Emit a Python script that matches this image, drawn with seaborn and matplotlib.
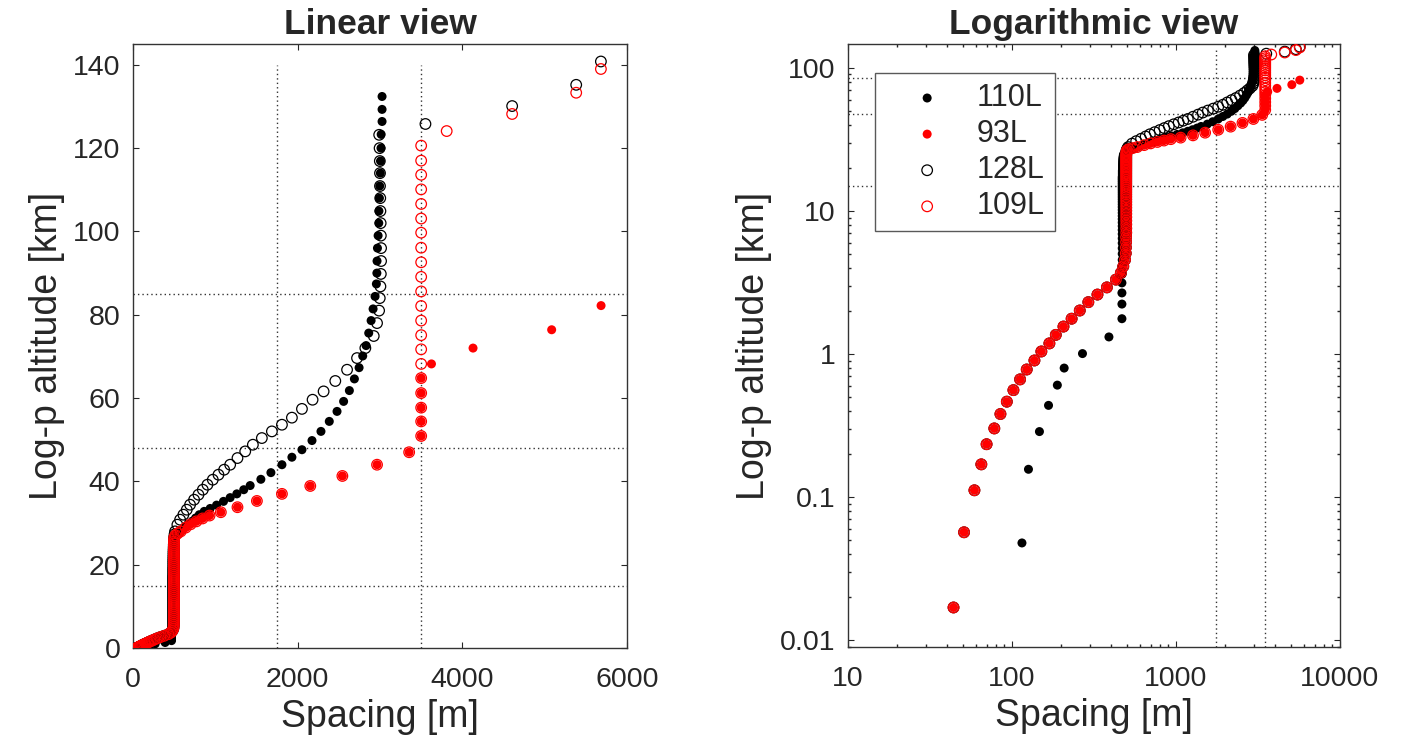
import matplotlib
matplotlib.use("Agg")
import matplotlib.pyplot as plt
from matplotlib.ticker import NullFormatter, LogLocator
import seaborn as sns

# Spacing [m] and log-p altitude [km]

# levels shared by 93L and 109L (128L sits underneath them here): surface to ~26 km
low_z = [0.017, 0.057, 0.112, 0.170, 0.235, 0.303, 0.382, 0.466, 0.561, 0.667,
         0.782, 0.904, 1.045, 1.19, 1.365, 1.56, 1.77, 2.02, 2.31, 2.61,
         2.93, 3.32, 3.70, 4.11, 4.57,
         5.07, 5.57, 6.07, 6.57, 7.07, 7.57, 8.07, 8.57, 9.07, 9.57,
         10.07, 10.57, 11.07, 11.57, 12.07, 12.57, 13.07, 13.57, 14.07, 14.57,
         15.07, 15.57, 16.07, 16.57, 17.07, 17.57, 18.07, 18.57, 19.07, 19.57,
         20.07, 20.57, 21.07, 21.57, 22.07, 22.57, 23.07, 23.57, 24.07, 24.57,
         25.07, 25.57, 26.07]
low_s = [44, 51, 59, 65, 70, 78, 85, 93, 102, 112,
         123, 137, 151, 169, 185, 206, 231, 259, 292, 332,
         379, 430, 461, 477, 489,
         494, 495, 496, 496, 497, 497, 497, 497, 497, 497,
         497, 497, 497, 497, 497, 497, 497, 497, 497, 497,
         497, 497, 497, 497, 497, 497, 497, 497, 497, 497,
         497, 497, 497, 497, 497, 497, 497, 497, 497, 497,
         498, 498, 499]

# 93L / 109L stratosphere
knee_z = [26.57, 27.07, 27.55, 28.0, 28.9, 29.7, 30.4, 31.1, 31.8, 32.6, 33.8,
          35.3, 37.0, 38.9, 41.3, 44.0, 47.0, 50.9, 54.4, 57.7, 61.2, 64.8]
knee_s = [502, 515, 545, 580, 640, 700, 770, 845, 930, 1067, 1269,
          1505, 1809, 2153, 2543, 2964, 3354, 3500, 3500, 3500, 3500, 3500]

# top of 93L
top93_z = [68.2, 72.0, 76.4, 82.2]
top93_s = [3625, 4130, 5085, 5685]

# top of 109L
top109_z = [68.2, 71.7, 75.1, 78.6, 82.1, 85.6, 89.1, 92.6, 96.1, 99.7,
            103.1, 106.6, 110.1, 113.6, 117.0, 120.6, 124.1, 128.2, 133.3, 139.0]
top109_s = [3500, 3500, 3500, 3500, 3500, 3500, 3500, 3500, 3500, 3500,
            3500, 3500, 3500, 3500, 3500, 3500, 3810, 4605, 5383, 5683]

# 128L above ~26 km
up128_z = [26.6, 27.3, 28.0, 29.6, 30.8, 32.0, 33.2, 34.4, 35.6, 36.8,
           38.0, 39.2, 40.4, 41.6, 42.8, 44.0, 45.6, 47.2, 48.8, 50.4,
           52.0, 53.6, 55.3, 57.4, 59.6, 61.6, 64.1, 66.8, 69.6, 72.0,
           74.9, 78.0, 81.0, 84.0, 86.8, 89.8, 92.9, 96.0, 99.0, 102.0,
           104.9, 108.0, 110.9, 114.0, 116.9, 120.0, 123.2, 125.8, 130.1, 135.2,
           140.8]
up128_s = [500, 505, 511, 539, 572, 612, 653, 693, 742, 795,
           848, 904, 969, 1038, 1107, 1180, 1269, 1363, 1456, 1565,
           1687, 1809, 1930, 2052, 2181, 2315, 2457, 2600, 2721, 2822,
           2924, 2964, 2989, 2997, 3005, 3010, 3013, 3013, 3010, 3008,
           3005, 3003, 3000, 3000, 2998, 2995, 2990, 3552, 4605, 5383,
           5683]

# 110L
z110 = [0.048, 0.157, 0.288, 0.439, 0.608, 0.80, 1.01, 1.32, 1.77, 2.24, 2.68, 3.15,
        3.62, 4.09, 4.56, 5.03, 5.50, 5.97, 6.44, 6.91, 7.38, 7.85,
        8.32, 8.79, 9.26, 9.73, 10.20, 10.67, 11.14, 11.61, 12.08, 12.55,
        13.02, 13.49, 13.96, 14.43, 14.90, 15.37, 15.84, 16.31, 16.78, 17.25,
        17.72, 18.19, 18.66, 19.13, 19.60, 20.07, 20.54, 21.01, 21.48, 21.95,
        22.42, 22.89, 23.36, 23.83, 24.30,
        24.8, 25.3, 25.8, 26.3, 26.8, 27.35, 27.9, 28.5, 29.1, 29.75,
        30.45, 31.2, 32.0, 32.8, 33.5, 34.3, 35.2, 36.1, 37.0, 38.0,
        39.0, 40.5, 42.1, 44.0, 45.8, 47.6, 49.8, 52.0, 54.4, 56.8,
        59.2, 61.8, 64.6, 67.3, 70.1, 72.6, 75.6, 78.6, 81.4, 84.4,
        87.4, 90.0, 92.9, 96.0, 99.0, 102.0, 104.9, 108.0, 110.9, 114.0,
        116.9, 120.0, 123.3, 126.4, 129.3, 132.4]
s110 = [115, 126, 147, 167, 189, 208, 269, 390, 468, 468, 468, 468,
        469, 469, 470, 470, 470, 470, 470, 470, 470, 470,
        470, 470, 470, 470, 470, 470, 470, 470, 470, 470,
        470, 470, 470, 470, 470, 470, 470, 470, 470, 470,
        471, 471, 471, 471, 472, 472, 472, 472, 473, 473,
        474, 474, 475, 476, 477,
        478, 485, 495, 508, 525, 548, 575, 605, 640, 680,
        720, 760, 805, 865, 937, 1015, 1099, 1180, 1261, 1345,
        1423, 1553, 1675, 1809, 1930, 2052, 2174, 2283, 2384, 2478,
        2558, 2628, 2689, 2746, 2790, 2831, 2863, 2892, 2916, 2940,
        2956, 2962, 2964, 2969, 2977, 2985, 2987, 2993, 2997, 3004,
        3006, 3012, 3014, 3025, 3025, 3025]

z93 = low_z + knee_z + top93_z
s93 = low_s + knee_s + top93_s
z109 = low_z + knee_z + top109_z
s109 = low_s + knee_s + top109_s
z128 = low_z + up128_z
s128 = low_s + up128_s

ref_spacing = [1750, 3500]
ref_alt = [15, 48, 85]

lin_xticks = [0, 2000, 4000, 6000]
lin_yticks = [0, 20, 40, 60, 80, 100, 120, 140]
log_xticks = [10, 100, 1000, 10000]
log_xlabels = ["10", "100", "1000", "10000"]
log_yticks = [0.01, 0.1, 1, 10, 100]
log_ylabels = ["0.01", "0.1", "1", "10", "100"]

sns.set_theme(style="ticks")
plt.rcParams["font.family"] = ["Liberation Sans", "DejaVu Sans"]
plt.rcParams.update({
    "xtick.direction": "in", "ytick.direction": "in",
    "xtick.top": True, "ytick.right": True,
    "xtick.major.size": 4, "ytick.major.size": 4,
    "xtick.minor.size": 2.2, "ytick.minor.size": 2.2,
    "xtick.major.width": 0.8, "ytick.major.width": 0.8,
    "axes.linewidth": 1.0,
})

fig = plt.figure(figsize=(14.12, 7.45), dpi=100)
ax1 = fig.add_axes([133 / 1412, 97 / 745, 494 / 1412, 604 / 745])
ax2 = fig.add_axes([848 / 1412, 98 / 745, 492 / 1412, 603 / 745])


def draw_series(ax):
    sns.scatterplot(x=s110, y=z110, ax=ax, color="black", edgecolor="none",
                    s=42, linewidth=0, label="110L", legend=False, zorder=3)
    sns.scatterplot(x=s93, y=z93, ax=ax, color="red", edgecolor="none",
                    s=42, linewidth=0, label="93L", legend=False, zorder=3)
    sns.scatterplot(x=s128, y=z128, ax=ax, facecolor="none", edgecolor="black",
                    s=58, linewidth=0.9, label="128L", legend=False, zorder=3)
    sns.scatterplot(x=s109, y=z109, ax=ax, facecolor="none", edgecolor="red",
                    s=58, linewidth=0.9, label="109L", legend=False, zorder=3)


dots = (0, (1, 2.2))

# Linear view
draw_series(ax1)
ax1.set_xlim(0, 6000)
ax1.set_ylim(0, 145)
ax1.vlines(ref_spacing, 0, 140, colors="0.2", linestyles=dots, lw=1, zorder=1)
for a in ref_alt:
    ax1.axhline(a, color="0.2", ls=dots, lw=1, zorder=1)
ax1.set_xticks(lin_xticks)
ax1.set_yticks(lin_yticks)
ax1.set_title("Linear view", fontsize=25.5, fontweight="bold", pad=7)

# Logarithmic view
draw_series(ax2)
ax2.set_xscale("log")
ax2.set_yscale("log")
ax2.set_xlim(10, 10000)
ax2.set_ylim(0.009, 147)
ax2.vlines(ref_spacing, 0.009, 140, colors="0.2", linestyles=dots, lw=1, zorder=1)
for a in ref_alt:
    ax2.axhline(a, color="0.2", ls=dots, lw=1, zorder=1)
ax2.set_xticks(log_xticks, labels=log_xlabels)
ax2.set_yticks(log_yticks, labels=log_ylabels)
for axis in (ax2.xaxis, ax2.yaxis):
    axis.set_minor_locator(LogLocator(base=10, subs=(2, 3, 4, 5, 6, 7, 8, 9)))
    axis.set_minor_formatter(NullFormatter())
ax2.set_title("Logarithmic view", fontsize=25.5, fontweight="bold", pad=7)
ax2.legend(loc="upper left", bbox_to_anchor=(0.055, 0.952), borderaxespad=0,
           fancybox=False, framealpha=1, edgecolor="0.35", fontsize=22,
           handlelength=2.75, handletextpad=0.26, labelspacing=0.2,
           borderpad=0.33, scatterpoints=1)

for ax in (ax1, ax2):
    ax.set_xlabel("Spacing [m]", fontsize=27, labelpad=4)
    ax.set_ylabel("Log-p altitude [km]", fontsize=27, labelpad=6)
    ax.tick_params(axis="both", which="both", labelsize=20.5)
    ax.tick_params(axis="x", which="major", pad=14)
    ax.tick_params(axis="y", which="major", pad=9)
    for sp in ax.spines.values():
        sp.set_color("0.2")

fig.savefig("out.png", dpi=100)
